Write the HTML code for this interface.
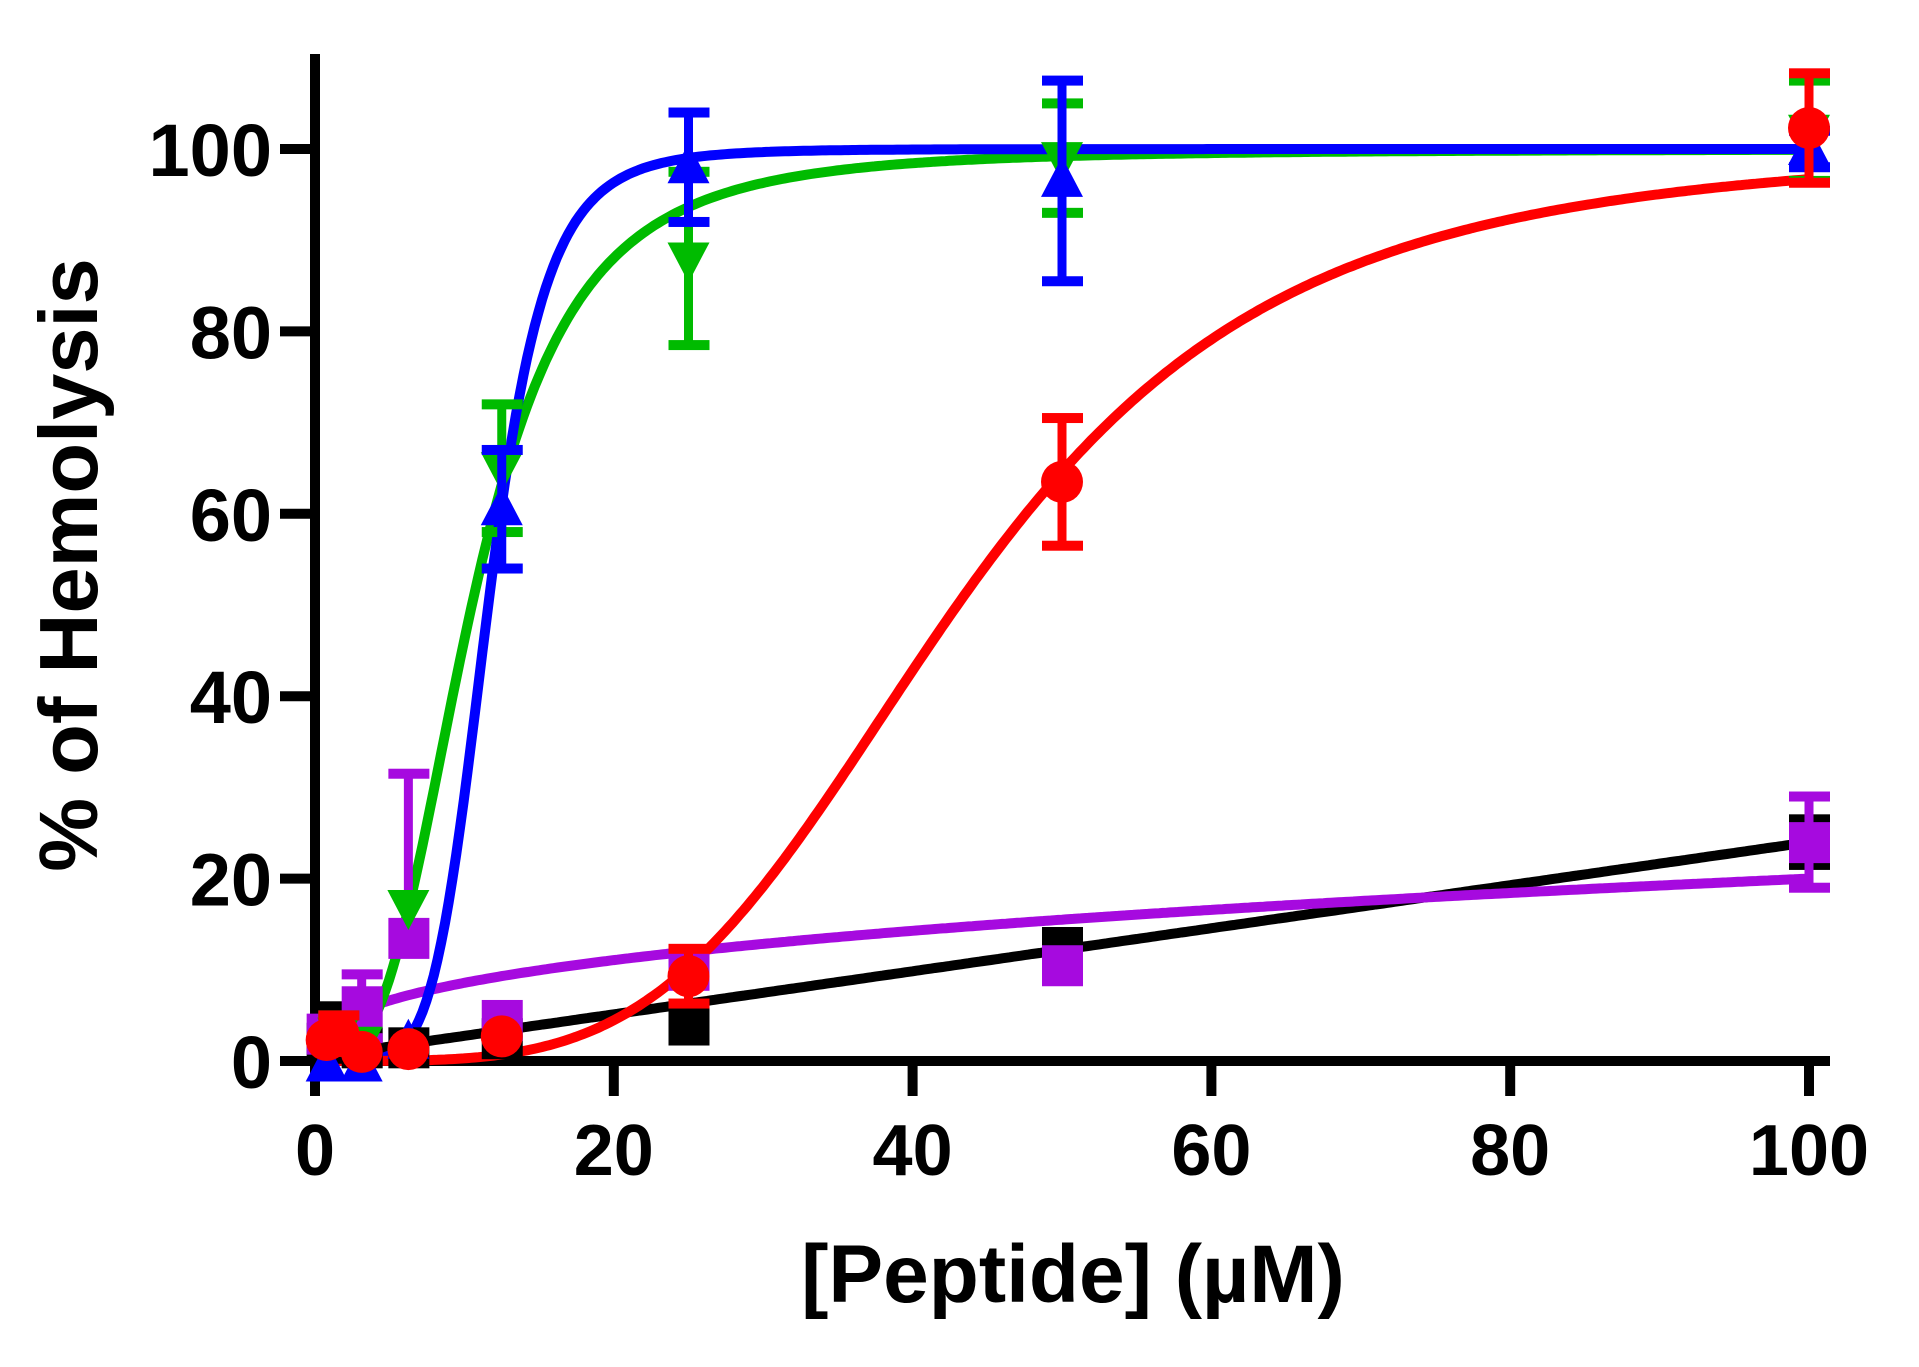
<!DOCTYPE html>
<html><head><meta charset="utf-8"><style>
html,body{margin:0;padding:0;background:#fff;}
svg{display:block;}
text{font-family:"Liberation Sans",Arial,sans-serif;font-weight:bold;fill:#000;}
</style></head><body>
<svg id="s" width="1919" height="1367" viewBox="0 0 1919 1367" xmlns="http://www.w3.org/2000/svg">
<g id="axes" stroke="#000" stroke-width="10" fill="none">
<line x1="315" y1="54" x2="315" y2="1066"/>
<line x1="310" y1="1061" x2="1830" y2="1061"/>
</g>
<g id="ticks" stroke="#000" stroke-width="10"></g>
<g id="labels"></g>
<text x="1073" y="1302" font-size="82" text-anchor="middle">[Peptide] (µM)</text>
<text transform="translate(97,565) rotate(-90)" font-size="83" text-anchor="middle">% of Hemolysis</text>
<g id="plot"></g>
</svg>
<script>
var X=function(v){return 315+14.94*v;}, Y=function(v){return 1061-9.12*v;};
var ns="http://www.w3.org/2000/svg";
function el(p,t,a,txt){var e=document.createElementNS(ns,t);for(var k in a)e.setAttribute(k,a[k]);if(txt!=null)e.textContent=txt;p.appendChild(e);return e;}
var tk=document.getElementById('ticks'),lb=document.getElementById('labels'),pl=document.getElementById('plot');
for(var i=0;i<=100;i+=20){
 el(tk,'line',{x1:X(i),y1:1061,x2:X(i),y2:1096});
 el(tk,'line',{x1:280,y1:Y(i),x2:315,y2:Y(i)});
 el(lb,'text',{x:X(i),y:1175,'font-size':72,'text-anchor':'middle'},i);
 el(lb,'text',{x:272,y:Y(i)+27,'font-size':74,'text-anchor':'end'},i);
}
function curve(f,col,x0){var d='';for(var x=x0;x<=100.001;x+=0.25){d+=(d?'L':'M')+X(x).toFixed(1)+','+Y(f(x)).toFixed(1);}el(pl,'path',{d:d,stroke:col,'stroke-width':10,fill:'none'});}
function hill(ec,n,top){return function(x){var r=Math.pow(x/ec,n);return top*r/(1+r);};}
function err(col,x,y,e,up){var cx=X(x);var lo=up?y:y-e;el(pl,'line',{x1:cx,y1:Y(y+e),x2:cx,y2:Y(lo),stroke:col,'stroke-width':9});
 (up?[y+e]:[y+e,y-e]).forEach(function(v){el(pl,'rect',{x:cx-20,y:Y(v)-5,width:41,height:10,fill:col});});}
function mk(shape,col,x,y){var cx=X(x),cy=Y(y);
 if(shape=='sq')el(pl,'rect',{x:cx-20,y:cy-20,width:41,height:41,fill:col});
 else if(shape=='ci')el(pl,'circle',{cx:cx,cy:cy,r:21,fill:col});
 else if(shape=='up')el(pl,'polygon',{points:(cx-21)+','+(cy+16)+' '+(cx+21)+','+(cy+16)+' '+cx+','+(cy-24),fill:col});
 else el(pl,'polygon',{points:(cx-21)+','+(cy-16)+' '+(cx+21)+','+(cy-16)+' '+cx+','+(cy+24),fill:col});}
var K='#000',P='#A60ADF',G='#00BB00',B='#0000FF',R='#FF0000';
curve(function(x){return 0.4+0.236*x;},K,0.5);
curve(function(x){return 20*Math.pow(x/100,0.368);},P,0.5);
curve(hill(10.5,3.1,100),G,0.2);
curve(hill(11.6,6,100),B,0.2);
curve(hill(43,4,100),R,0.2);
var data=[
 ['sq',K,[[0.78,2,0],[1.56,4,2],[3.125,1.5,0],[6.25,1.5,0],[12.5,2.5,0],[25,4,0],[50,12.5,0],[100,24,2.5]]],
 ['sq',P,[[0.78,3,0],[3.125,6,3.5],[6.25,13.5,18,1],[12.5,4.5,0],[25,10,0],[50,10.5,0],[100,24,5]]],
 ['dn',G,[[1.56,3,2],[3.125,2,0],[6.25,17,0],[12.5,65,7],[25,88,9.5],[50,99,6],[100,102,5.5]]],
 ['up',B,[[0.78,-0.5,0],[3.125,-0.5,0],[6.25,2,0],[12.5,60.5,6.5],[25,98,6],[50,96.5,11],[100,100,2]]],
 ['ci',R,[[0.78,2.3,0],[1.56,3,2],[3.125,1,0],[6.25,1.3,0],[12.5,2.7,0],[25,9.3,3],[50,63.5,7],[100,102.3,6]]]
];
data.forEach(function(s){s[2].forEach(function(p){if(p[2])err(s[1],p[0],p[1],p[2],p[3]);mk(s[0],s[1],p[0],p[1]);});});
</script>
</body></html>
